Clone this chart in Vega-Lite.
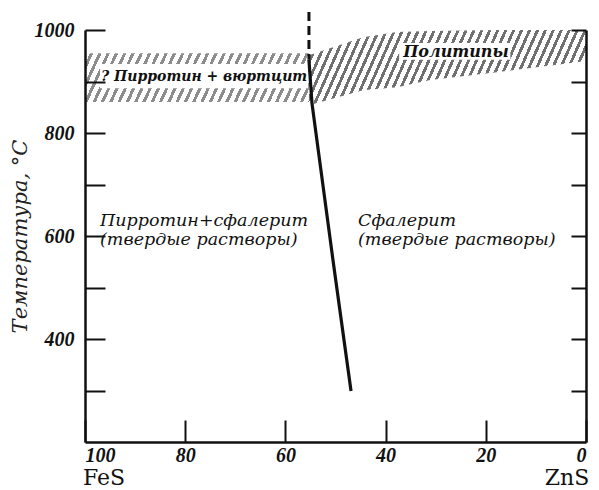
{
  "$schema": "https://vega.github.io/schema/vega-lite/v6.json",
  "width": 501,
  "height": 412,
  "autosize": {"type": "none"},
  "padding": {"left": 85, "top": 30, "right": 13, "bottom": 48},
  "background": "white",
  "config": {"view": {"stroke": null}},
  "datasets": {
    "boundary": [
      {"x": 55.3, "y": 942},
      {"x": 54.7, "y": 858},
      {"x": 50.5, "y": 553},
      {"x": 46.9, "y": 299}
    ],
    "dash": [
      {"x": 55.3, "y": 1035},
      {"x": 55.3, "y": 942}
    ],
    "bandL": [{"x": 100, "x2": 55.3, "y": 955, "y2": 860}],
    "bandR": [
      {"x": 55.3, "y": 951, "y2": 854},
      {"x": 44.5, "y": 986, "y2": 883},
      {"x": 37.7, "y": 996, "y2": 889},
      {"x": 31.1, "y": 998, "y2": 903},
      {"x": 17.8, "y": 1000, "y2": 918},
      {"x": 4.6, "y": 1000, "y2": 934},
      {"x": 0, "y": 1000, "y2": 940}
    ],
    "masks": [
      {"x": 97, "x2": 55.5, "y": 934, "y2": 887},
      {"x": 37.3, "x2": 15.1, "y": 975, "y2": 942}
    ],
    "wurtz": [{"x": 96.8, "y": 909, "t": "? Пирротин + вюртцит"}],
    "poly": [{"x": 36.5, "y": 957, "t": "Политипы"}],
    "regions": [
      {"x": 97, "y": 647, "t": "Пирротин+сфалерит\n(твердые растворы)"},
      {"x": 45.5, "y": 647, "t": "Сфалерит\n(твердые растворы)"}
    ],
    "ends": [
      {"x": 96.2, "y": 117, "t": "FeS"},
      {"x": 3.8, "y": 117, "t": "ZnS"}
    ]
  },
  "resolve": {"axis": {"y": "independent", "x": "independent"}},
  "layer": [
    {
      "data": {"name": "bandL"},
      "mark": {
        "type": "rect",
        "fill": {
          "gradient": "linear", "x1": 0, "y1": 0, "x2": 1.1, "y2": 0.11,
          "stops": [
            {"offset": 0, "color": "#fff"}, {"offset": 0.02, "color": "#fff"}, {"offset": 0.02, "color": "#8c8c8c"}, {"offset": 0.0333, "color": "#8c8c8c"},
            {"offset": 0.0333, "color": "#fff"}, {"offset": 0.0533, "color": "#fff"}, {"offset": 0.0533, "color": "#8c8c8c"}, {"offset": 0.0667, "color": "#8c8c8c"},
            {"offset": 0.0667, "color": "#fff"}, {"offset": 0.0867, "color": "#fff"}, {"offset": 0.0867, "color": "#8c8c8c"}, {"offset": 0.1, "color": "#8c8c8c"},
            {"offset": 0.1, "color": "#fff"}, {"offset": 0.12, "color": "#fff"}, {"offset": 0.12, "color": "#8c8c8c"}, {"offset": 0.1333, "color": "#8c8c8c"},
            {"offset": 0.1333, "color": "#fff"}, {"offset": 0.1533, "color": "#fff"}, {"offset": 0.1533, "color": "#8c8c8c"}, {"offset": 0.1667, "color": "#8c8c8c"},
            {"offset": 0.1667, "color": "#fff"}, {"offset": 0.1867, "color": "#fff"}, {"offset": 0.1867, "color": "#8c8c8c"}, {"offset": 0.2, "color": "#8c8c8c"},
            {"offset": 0.2, "color": "#fff"}, {"offset": 0.22, "color": "#fff"}, {"offset": 0.22, "color": "#8c8c8c"}, {"offset": 0.2333, "color": "#8c8c8c"},
            {"offset": 0.2333, "color": "#fff"}, {"offset": 0.2533, "color": "#fff"}, {"offset": 0.2533, "color": "#8c8c8c"}, {"offset": 0.2667, "color": "#8c8c8c"},
            {"offset": 0.2667, "color": "#fff"}, {"offset": 0.2867, "color": "#fff"}, {"offset": 0.2867, "color": "#8c8c8c"}, {"offset": 0.3, "color": "#8c8c8c"},
            {"offset": 0.3, "color": "#fff"}, {"offset": 0.32, "color": "#fff"}, {"offset": 0.32, "color": "#8c8c8c"}, {"offset": 0.3333, "color": "#8c8c8c"},
            {"offset": 0.3333, "color": "#fff"}, {"offset": 0.3533, "color": "#fff"}, {"offset": 0.3533, "color": "#8c8c8c"}, {"offset": 0.3667, "color": "#8c8c8c"},
            {"offset": 0.3667, "color": "#fff"}, {"offset": 0.3867, "color": "#fff"}, {"offset": 0.3867, "color": "#8c8c8c"}, {"offset": 0.4, "color": "#8c8c8c"},
            {"offset": 0.4, "color": "#fff"}, {"offset": 0.42, "color": "#fff"}, {"offset": 0.42, "color": "#8c8c8c"}, {"offset": 0.4333, "color": "#8c8c8c"},
            {"offset": 0.4333, "color": "#fff"}, {"offset": 0.4533, "color": "#fff"}, {"offset": 0.4533, "color": "#8c8c8c"}, {"offset": 0.4667, "color": "#8c8c8c"},
            {"offset": 0.4667, "color": "#fff"}, {"offset": 0.4867, "color": "#fff"}, {"offset": 0.4867, "color": "#8c8c8c"}, {"offset": 0.5, "color": "#8c8c8c"},
            {"offset": 0.5, "color": "#fff"}, {"offset": 0.52, "color": "#fff"}, {"offset": 0.52, "color": "#8c8c8c"}, {"offset": 0.5333, "color": "#8c8c8c"},
            {"offset": 0.5333, "color": "#fff"}, {"offset": 0.5533, "color": "#fff"}, {"offset": 0.5533, "color": "#8c8c8c"}, {"offset": 0.5667, "color": "#8c8c8c"},
            {"offset": 0.5667, "color": "#fff"}, {"offset": 0.5867, "color": "#fff"}, {"offset": 0.5867, "color": "#8c8c8c"}, {"offset": 0.6, "color": "#8c8c8c"},
            {"offset": 0.6, "color": "#fff"}, {"offset": 0.62, "color": "#fff"}, {"offset": 0.62, "color": "#8c8c8c"}, {"offset": 0.6333, "color": "#8c8c8c"},
            {"offset": 0.6333, "color": "#fff"}, {"offset": 0.6533, "color": "#fff"}, {"offset": 0.6533, "color": "#8c8c8c"}, {"offset": 0.6667, "color": "#8c8c8c"},
            {"offset": 0.6667, "color": "#fff"}, {"offset": 0.6867, "color": "#fff"}, {"offset": 0.6867, "color": "#8c8c8c"}, {"offset": 0.7, "color": "#8c8c8c"},
            {"offset": 0.7, "color": "#fff"}, {"offset": 0.72, "color": "#fff"}, {"offset": 0.72, "color": "#8c8c8c"}, {"offset": 0.7333, "color": "#8c8c8c"},
            {"offset": 0.7333, "color": "#fff"}, {"offset": 0.7533, "color": "#fff"}, {"offset": 0.7533, "color": "#8c8c8c"}, {"offset": 0.7667, "color": "#8c8c8c"},
            {"offset": 0.7667, "color": "#fff"}, {"offset": 0.7867, "color": "#fff"}, {"offset": 0.7867, "color": "#8c8c8c"}, {"offset": 0.8, "color": "#8c8c8c"},
            {"offset": 0.8, "color": "#fff"}, {"offset": 0.82, "color": "#fff"}, {"offset": 0.82, "color": "#8c8c8c"}, {"offset": 0.8333, "color": "#8c8c8c"},
            {"offset": 0.8333, "color": "#fff"}, {"offset": 0.8533, "color": "#fff"}, {"offset": 0.8533, "color": "#8c8c8c"}, {"offset": 0.8667, "color": "#8c8c8c"},
            {"offset": 0.8667, "color": "#fff"}, {"offset": 0.8867, "color": "#fff"}, {"offset": 0.8867, "color": "#8c8c8c"}, {"offset": 0.9, "color": "#8c8c8c"},
            {"offset": 0.9, "color": "#fff"}, {"offset": 0.92, "color": "#fff"}, {"offset": 0.92, "color": "#8c8c8c"}, {"offset": 0.9333, "color": "#8c8c8c"},
            {"offset": 0.9333, "color": "#fff"}, {"offset": 0.9533, "color": "#fff"}, {"offset": 0.9533, "color": "#8c8c8c"}, {"offset": 0.9667, "color": "#8c8c8c"},
            {"offset": 0.9667, "color": "#fff"}, {"offset": 0.9867, "color": "#fff"}, {"offset": 0.9867, "color": "#8c8c8c"}, {"offset": 1, "color": "#8c8c8c"}
          ]
        }
      },
      "encoding": {
        "x": {"field": "x", "type": "quantitative", "axis": null, "scale": {"domain": [0, 100], "reverse": true, "nice": false, "zero": false}},
        "x2": {"field": "x2"},
        "y": {"field": "y", "type": "quantitative", "axis": null, "scale": {"domain": [200, 1000], "nice": false, "zero": false}},
        "y2": {"field": "y2"}
      }
    },
    {
      "data": {"name": "bandR"},
      "mark": {
        "type": "area",
        "orient": "vertical",
        "fill": {
          "gradient": "linear", "x1": 0, "y1": 0, "x2": 1.13, "y2": 0.135,
          "stops": [
            {"offset": 0, "color": "#fff"}, {"offset": 0.015, "color": "#fff"}, {"offset": 0.015, "color": "#707070"}, {"offset": 0.025, "color": "#707070"},
            {"offset": 0.025, "color": "#fff"}, {"offset": 0.04, "color": "#fff"}, {"offset": 0.04, "color": "#707070"}, {"offset": 0.05, "color": "#707070"},
            {"offset": 0.05, "color": "#fff"}, {"offset": 0.065, "color": "#fff"}, {"offset": 0.065, "color": "#707070"}, {"offset": 0.075, "color": "#707070"},
            {"offset": 0.075, "color": "#fff"}, {"offset": 0.09, "color": "#fff"}, {"offset": 0.09, "color": "#707070"}, {"offset": 0.1, "color": "#707070"},
            {"offset": 0.1, "color": "#fff"}, {"offset": 0.115, "color": "#fff"}, {"offset": 0.115, "color": "#707070"}, {"offset": 0.125, "color": "#707070"},
            {"offset": 0.125, "color": "#fff"}, {"offset": 0.14, "color": "#fff"}, {"offset": 0.14, "color": "#707070"}, {"offset": 0.15, "color": "#707070"},
            {"offset": 0.15, "color": "#fff"}, {"offset": 0.165, "color": "#fff"}, {"offset": 0.165, "color": "#707070"}, {"offset": 0.175, "color": "#707070"},
            {"offset": 0.175, "color": "#fff"}, {"offset": 0.19, "color": "#fff"}, {"offset": 0.19, "color": "#707070"}, {"offset": 0.2, "color": "#707070"},
            {"offset": 0.2, "color": "#fff"}, {"offset": 0.215, "color": "#fff"}, {"offset": 0.215, "color": "#707070"}, {"offset": 0.225, "color": "#707070"},
            {"offset": 0.225, "color": "#fff"}, {"offset": 0.24, "color": "#fff"}, {"offset": 0.24, "color": "#707070"}, {"offset": 0.25, "color": "#707070"},
            {"offset": 0.25, "color": "#fff"}, {"offset": 0.265, "color": "#fff"}, {"offset": 0.265, "color": "#707070"}, {"offset": 0.275, "color": "#707070"},
            {"offset": 0.275, "color": "#fff"}, {"offset": 0.29, "color": "#fff"}, {"offset": 0.29, "color": "#707070"}, {"offset": 0.3, "color": "#707070"},
            {"offset": 0.3, "color": "#fff"}, {"offset": 0.315, "color": "#fff"}, {"offset": 0.315, "color": "#707070"}, {"offset": 0.325, "color": "#707070"},
            {"offset": 0.325, "color": "#fff"}, {"offset": 0.34, "color": "#fff"}, {"offset": 0.34, "color": "#707070"}, {"offset": 0.35, "color": "#707070"},
            {"offset": 0.35, "color": "#fff"}, {"offset": 0.365, "color": "#fff"}, {"offset": 0.365, "color": "#707070"}, {"offset": 0.375, "color": "#707070"},
            {"offset": 0.375, "color": "#fff"}, {"offset": 0.39, "color": "#fff"}, {"offset": 0.39, "color": "#707070"}, {"offset": 0.4, "color": "#707070"},
            {"offset": 0.4, "color": "#fff"}, {"offset": 0.415, "color": "#fff"}, {"offset": 0.415, "color": "#707070"}, {"offset": 0.425, "color": "#707070"},
            {"offset": 0.425, "color": "#fff"}, {"offset": 0.44, "color": "#fff"}, {"offset": 0.44, "color": "#707070"}, {"offset": 0.45, "color": "#707070"},
            {"offset": 0.45, "color": "#fff"}, {"offset": 0.465, "color": "#fff"}, {"offset": 0.465, "color": "#707070"}, {"offset": 0.475, "color": "#707070"},
            {"offset": 0.475, "color": "#fff"}, {"offset": 0.49, "color": "#fff"}, {"offset": 0.49, "color": "#707070"}, {"offset": 0.5, "color": "#707070"},
            {"offset": 0.5, "color": "#fff"}, {"offset": 0.515, "color": "#fff"}, {"offset": 0.515, "color": "#707070"}, {"offset": 0.525, "color": "#707070"},
            {"offset": 0.525, "color": "#fff"}, {"offset": 0.54, "color": "#fff"}, {"offset": 0.54, "color": "#707070"}, {"offset": 0.55, "color": "#707070"},
            {"offset": 0.55, "color": "#fff"}, {"offset": 0.565, "color": "#fff"}, {"offset": 0.565, "color": "#707070"}, {"offset": 0.575, "color": "#707070"},
            {"offset": 0.575, "color": "#fff"}, {"offset": 0.59, "color": "#fff"}, {"offset": 0.59, "color": "#707070"}, {"offset": 0.6, "color": "#707070"},
            {"offset": 0.6, "color": "#fff"}, {"offset": 0.615, "color": "#fff"}, {"offset": 0.615, "color": "#707070"}, {"offset": 0.625, "color": "#707070"},
            {"offset": 0.625, "color": "#fff"}, {"offset": 0.64, "color": "#fff"}, {"offset": 0.64, "color": "#707070"}, {"offset": 0.65, "color": "#707070"},
            {"offset": 0.65, "color": "#fff"}, {"offset": 0.665, "color": "#fff"}, {"offset": 0.665, "color": "#707070"}, {"offset": 0.675, "color": "#707070"},
            {"offset": 0.675, "color": "#fff"}, {"offset": 0.69, "color": "#fff"}, {"offset": 0.69, "color": "#707070"}, {"offset": 0.7, "color": "#707070"},
            {"offset": 0.7, "color": "#fff"}, {"offset": 0.715, "color": "#fff"}, {"offset": 0.715, "color": "#707070"}, {"offset": 0.725, "color": "#707070"},
            {"offset": 0.725, "color": "#fff"}, {"offset": 0.74, "color": "#fff"}, {"offset": 0.74, "color": "#707070"}, {"offset": 0.75, "color": "#707070"},
            {"offset": 0.75, "color": "#fff"}, {"offset": 0.765, "color": "#fff"}, {"offset": 0.765, "color": "#707070"}, {"offset": 0.775, "color": "#707070"},
            {"offset": 0.775, "color": "#fff"}, {"offset": 0.79, "color": "#fff"}, {"offset": 0.79, "color": "#707070"}, {"offset": 0.8, "color": "#707070"},
            {"offset": 0.8, "color": "#fff"}, {"offset": 0.815, "color": "#fff"}, {"offset": 0.815, "color": "#707070"}, {"offset": 0.825, "color": "#707070"},
            {"offset": 0.825, "color": "#fff"}, {"offset": 0.84, "color": "#fff"}, {"offset": 0.84, "color": "#707070"}, {"offset": 0.85, "color": "#707070"},
            {"offset": 0.85, "color": "#fff"}, {"offset": 0.865, "color": "#fff"}, {"offset": 0.865, "color": "#707070"}, {"offset": 0.875, "color": "#707070"},
            {"offset": 0.875, "color": "#fff"}, {"offset": 0.89, "color": "#fff"}, {"offset": 0.89, "color": "#707070"}, {"offset": 0.9, "color": "#707070"},
            {"offset": 0.9, "color": "#fff"}, {"offset": 0.915, "color": "#fff"}, {"offset": 0.915, "color": "#707070"}, {"offset": 0.925, "color": "#707070"},
            {"offset": 0.925, "color": "#fff"}, {"offset": 0.94, "color": "#fff"}, {"offset": 0.94, "color": "#707070"}, {"offset": 0.95, "color": "#707070"},
            {"offset": 0.95, "color": "#fff"}, {"offset": 0.965, "color": "#fff"}, {"offset": 0.965, "color": "#707070"}, {"offset": 0.975, "color": "#707070"},
            {"offset": 0.975, "color": "#fff"}, {"offset": 0.99, "color": "#fff"}, {"offset": 0.99, "color": "#707070"}, {"offset": 1, "color": "#707070"}
          ]
        }
      },
      "encoding": {
        "x": {"field": "x", "type": "quantitative", "axis": null},
        "y": {"field": "y", "type": "quantitative", "axis": null},
        "y2": {"field": "y2"}
      }
    },
    {
      "data": {"name": "masks"},
      "mark": {"type": "rect", "fill": "white"},
      "encoding": {
        "x": {"field": "x", "type": "quantitative", "axis": null},
        "x2": {"field": "x2"},
        "y": {"field": "y", "type": "quantitative", "axis": null},
        "y2": {"field": "y2"}
      }
    },
    {
      "data": {"name": "boundary"},
      "mark": {"type": "line", "color": "#111", "strokeWidth": 3.2},
      "encoding": {
        "x": {
          "field": "x", "type": "quantitative",
          "axis": {
            "orient": "bottom", "values": [100, 80, 60, 40, 20, 0], "format": "d",
            "tickSize": -22, "tickWidth": 2, "tickColor": "#111",
            "domainColor": "#111", "domainWidth": 2.5,
            "labelPadding": 25, "labelFlush": true, "labelOverlap": false,
            "labelFont": "Liberation Serif",
            "labelFontSize": 20, "labelFontStyle": "italic", "labelFontWeight": "bold", "labelColor": "#111",
            "grid": false, "title": null, "zindex": 1
          }
        },
        "y": {
          "field": "y", "type": "quantitative",
          "axis": {
            "orient": "left", "values": [300, 400, 500, 600, 700, 800, 900, 1000], "format": "d",
            "labelExpr": "datum.value % 200 == 0 ? datum.label : ''",
            "tickSize": -20, "tickWidth": 2, "tickColor": "#111",
            "domainColor": "#111", "domainWidth": 2.5,
            "labelPadding": 31, "labelFlush": false, "labelOverlap": false,
            "labelFont": "Liberation Serif",
            "labelFontSize": 20, "labelFontStyle": "italic", "labelFontWeight": "bold", "labelColor": "#111",
            "grid": false,
            "title": "Температура, °C",
            "titleFont": "DejaVu Serif", "titleFontStyle": "italic", "titleFontWeight": "normal",
            "titleFontSize": 21, "titleColor": "#222", "titleAngle": 270,
            "titleX": -59, "titleY": 206, "titleAlign": "center", "titleBaseline": "alphabetic",
            "zindex": 1
          }
        }
      }
    },
    {
      "data": {"name": "dash"},
      "mark": {"type": "line", "color": "#111", "strokeWidth": 3, "strokeDash": [9, 5]},
      "encoding": {
        "x": {"field": "x", "type": "quantitative", "axis": null},
        "y": {
          "field": "y", "type": "quantitative",
          "axis": {
            "orient": "right", "values": [300, 400, 500, 600, 700, 800, 900, 1000],
            "labels": false, "tickSize": -15, "tickWidth": 2, "tickColor": "#111",
            "domainColor": "#111", "domainWidth": 2.5, "grid": false, "title": null, "zindex": 1
          }
        }
      }
    },
    {
      "data": {"name": "wurtz"},
      "mark": {"type": "text", "align": "left", "baseline": "middle", "font": "DejaVu Serif", "fontStyle": "italic", "fontWeight": "bold", "fontSize": 14, "color": "#111"},
      "encoding": {
        "x": {"field": "x", "type": "quantitative", "axis": null},
        "y": {"field": "y", "type": "quantitative", "axis": null},
        "text": {"field": "t"}
      }
    },
    {
      "data": {"name": "poly"},
      "mark": {"type": "text", "align": "left", "baseline": "middle", "font": "DejaVu Serif", "fontStyle": "italic", "fontWeight": "bold", "fontSize": 16, "color": "#111"},
      "encoding": {
        "x": {"field": "x", "type": "quantitative", "axis": null},
        "y": {"field": "y", "type": "quantitative", "axis": null},
        "text": {"field": "t"}
      }
    },
    {
      "data": {"name": "regions"},
      "mark": {"type": "text", "align": "left", "baseline": "top", "lineBreak": "\n", "lineHeight": 19, "font": "DejaVu Serif", "fontStyle": "italic", "fontSize": 17.5, "color": "#111"},
      "encoding": {
        "x": {"field": "x", "type": "quantitative", "axis": null},
        "y": {"field": "y", "type": "quantitative", "axis": null},
        "text": {"field": "t"}
      }
    },
    {
      "data": {"name": "ends"},
      "mark": {"type": "text", "align": "center", "baseline": "alphabetic", "font": "DejaVu Serif", "fontSize": 22, "color": "#111"},
      "encoding": {
        "x": {"field": "x", "type": "quantitative", "axis": null},
        "y": {"field": "y", "type": "quantitative", "axis": null},
        "text": {"field": "t"}
      }
    }
  ]
}
